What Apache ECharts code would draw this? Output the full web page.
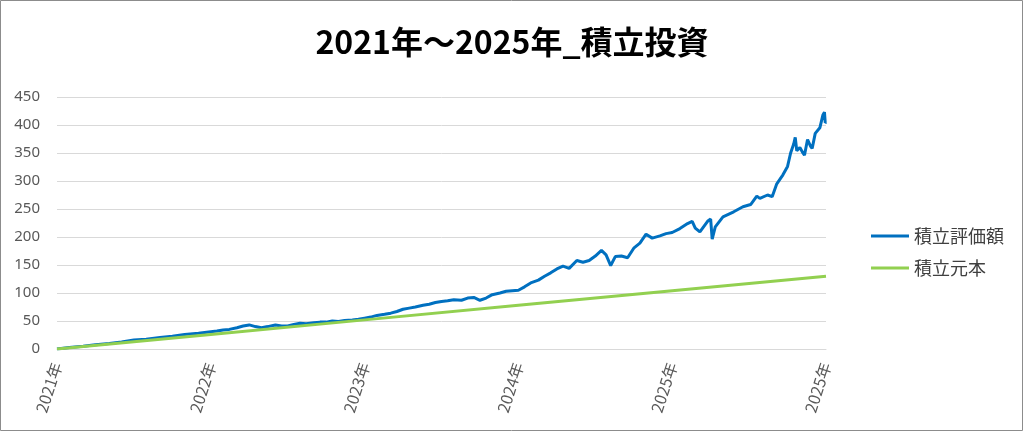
<!DOCTYPE html>
<html>
<head>
<meta charset="utf-8">
<script src="https://cdn.jsdelivr.net/npm/echarts@6/dist/echarts.min.js"></script>
<style>
html,body{margin:0;padding:0;background:#fff;}
#c{width:1024px;height:432px;}
</style>
</head>
<body>
<div id="c"></div>
<script>
// ---- data ----
const titleText = '2021年～2025年_積立投資';
const seriesNames = ['積立評価額', '積立元本'];
const xTickLabels = ['2021年', '2022年', '2023年', '2024年', '2025年', '2025年'];
const yTicks = [0, 50, 100, 150, 200, 250, 300, 350, 400, 450];

// 積立評価額 (time in decimal years)
const valueYears = [
  2021.00, 2021.08, 2021.17, 2021.25, 2021.34, 2021.42, 2021.50, 2021.58, 2021.67, 2021.75, 2021.83, 2021.92,
  2022.00, 2022.04, 2022.08, 2022.12, 2022.17, 2022.21, 2022.25, 2022.29, 2022.33, 2022.37, 2022.42, 2022.46,
  2022.50, 2022.54, 2022.58, 2022.62, 2022.67, 2022.71, 2022.75, 2022.79, 2022.83, 2022.87, 2022.92, 2022.96,
  2023.00, 2023.04, 2023.08, 2023.13, 2023.17, 2023.21, 2023.25, 2023.29, 2023.33, 2023.38, 2023.42, 2023.46,
  2023.50, 2023.54, 2023.58, 2023.63, 2023.67, 2023.71, 2023.75, 2023.79, 2023.83, 2023.88, 2023.92, 2023.96,
  2024.00, 2024.04, 2024.08, 2024.13, 2024.17, 2024.21, 2024.25, 2024.29, 2024.33, 2024.38, 2024.42, 2024.46,
  2024.50, 2024.54, 2024.57, 2024.60, 2024.63, 2024.67, 2024.71, 2024.75, 2024.79, 2024.83, 2024.87, 2024.92, 2024.96,
  2025.00, 2025.05, 2025.10, 2025.13, 2025.15, 2025.18, 2025.23, 2025.25, 2025.26, 2025.28, 2025.33, 2025.40,
  2025.46, 2025.51, 2025.55, 2025.57, 2025.62, 2025.65, 2025.68, 2025.72, 2025.75, 2025.77, 2025.79, 2025.80,
  2025.81, 2025.83, 2025.85, 2025.86, 2025.88, 2025.90, 2025.91, 2025.93, 2025.96, 2025.98, 2025.99, 2025.995, 2026.00
];
const valueAmounts = [
  0, 2.5, 5, 7.5, 10, 12.5, 16, 17.5, 20.5, 23, 26, 28,
  31, 32, 34, 35, 38, 41, 43, 40, 38, 40, 43, 41,
  41, 44, 46, 45, 47, 48, 48, 50, 49, 51, 52, 53,
  55, 57, 60, 62, 64, 67, 71, 73, 75, 78, 80, 83,
  85, 86, 88, 87, 91, 92, 87, 91, 97, 100, 103, 104,
  105, 111, 118, 123, 130, 136, 143, 148, 144, 158, 155, 158,
  166, 176, 168, 149, 165, 166, 163, 180, 189, 205, 198, 202, 206,
  208, 215, 224, 228, 216, 209, 228, 232, 196, 218, 236, 245,
  254, 258, 273, 269, 275, 272, 295, 311, 326, 350, 366, 378,
  354, 360, 350, 346, 374, 362, 358, 385, 395, 418, 423, 404, 405
];

// 積立元本
const principalYears = [2021, 2022, 2023, 2024, 2025, 2026];
const principalAmounts = [0, 26, 52, 78, 104, 130];

// ---- chart ----
const pair = (xs, ys) => xs.map((x, i) => [x, ys[i]]);
const chart = echarts.init(document.getElementById('c'), null, {renderer: 'canvas'});
const gray = '#595959';
chart.setOption({
  animation: false,
  backgroundColor: '#fff',
  title: {
    text: titleText,
    left: 'center',
    top: 21,
    textStyle: {fontFamily: 'Noto Sans CJK JP', fontWeight: 'bold', fontSize: 32, color: '#000'}
  },
  legend: {
    orient: 'vertical',
    left: 866,
    top: 221,
    itemWidth: 38,
    itemHeight: 3,
    itemGap: 12,
    icon: 'rect',
    data: seriesNames,
    textStyle: {fontFamily: 'Noto Sans CJK JP', fontSize: 18, color: '#404040', lineHeight: 20}
  },
  grid: {left: 57, right: 198, top: 97, bottom: 83, containLabel: false},
  xAxis: {
    type: 'value',
    min: 2021,
    max: 2026,
    interval: 1,
    axisLine: {show: true, lineStyle: {color: '#d9d9d9', width: 1}},
    axisTick: {show: false},
    splitLine: {show: false},
    axisLabel: {
      rotate: 72,
      margin: 14,
      color: gray,
      fontFamily: 'Noto Sans CJK JP',
      fontSize: 16,
      formatter: v => xTickLabels[Math.round(v - 2021)]
    }
  },
  yAxis: {
    type: 'value',
    min: yTicks[0],
    max: yTicks[yTicks.length - 1],
    interval: 50,
    axisLine: {show: false},
    axisTick: {show: false},
    splitLine: {lineStyle: {color: '#d9d9d9', width: 1}},
    axisLabel: {margin: 17, color: gray, fontFamily: 'Noto Sans', fontSize: 15}
  },
  series: [
    {
      name: seriesNames[0],
      type: 'line',
      data: pair(valueYears, valueAmounts),
      showSymbol: false,
      symbol: 'none',
      lineStyle: {color: '#0070C0', width: 3},
      itemStyle: {color: '#0070C0'}
    },
    {
      name: seriesNames[1],
      type: 'line',
      data: pair(principalYears, principalAmounts),
      showSymbol: false,
      symbol: 'none',
      lineStyle: {color: '#92D050', width: 3},
      itemStyle: {color: '#92D050'}
    }
  ],
  graphic: [{
    type: 'rect',
    silent: true,
    shape: {x: 0.5, y: 0.5, width: 1022, height: 430},
    style: {fill: null, stroke: '#8c8c8c', lineWidth: 1}
  }]
});
</script>
</body>
</html>
